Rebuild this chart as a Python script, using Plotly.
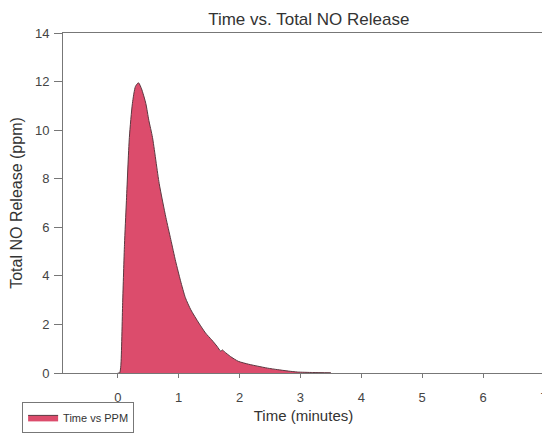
import plotly.graph_objects as go

time_min = [0.00, 0.03, 0.05, 0.08, 0.11, 0.14, 0.19, 0.24, 0.29, 0.34, 0.39, 0.46, 0.51,
            0.57, 0.68, 0.79, 0.87, 0.95, 1.03, 1.11, 1.20, 1.33, 1.44, 1.54, 1.63, 1.69,
            1.72, 1.75, 1.85, 1.98, 2.15, 2.30, 2.46, 2.62, 2.80, 2.95, 3.20, 3.50]
ppm = [0.0, 0.0, 0.3, 2.9, 5.3, 7.0, 9.7, 11.1, 11.8, 11.95, 11.7, 11.1, 10.4,
       9.7, 7.8, 6.4, 5.5, 4.6, 3.8, 3.1, 2.6, 2.06, 1.65, 1.37, 1.1, 0.9,
       0.95, 0.88, 0.68, 0.48, 0.36, 0.28, 0.2, 0.14, 0.08, 0.04, 0.02, 0.01]
x_ticks = [0, 1, 2, 3, 4, 5, 6, 7]
y_ticks = [0, 2, 4, 6, 8, 10, 12, 14]

fig = go.Figure()
fig.add_trace(go.Scatter(
    x=time_min, y=ppm, mode="lines", fill="tozeroy",
    name="Time vs PPM",
    line=dict(color="#5a3840", width=1, shape="spline", smoothing=0.6),
    fillcolor="#dc4c6c",
))

font_main = "Liberation Sans, Arial, sans-serif"
fig.update_layout(
    width=542, height=426,
    margin=dict(l=55, r=6, t=25, b=61, autoexpand=False),
    paper_bgcolor="white", plot_bgcolor="white",
    title=dict(text="Time vs. Total NO Release", x=0.555, xanchor="center", y=0.988, yanchor="top",
               font=dict(family=font_main, size=17, color="#333")),
    font=dict(family=font_main, color="#444"),
    showlegend=True,
    legend=dict(x=-0.085, y=-0.085, xanchor="left", yanchor="top",
                bordercolor="#777", borderwidth=1, bgcolor="white",
                font=dict(size=11, color="#333"), itemwidth=30,
                tracegroupgap=0),
    xaxis=dict(range=[-0.9, 7.0], tickvals=x_ticks, ticktext=[str(v) for v in x_ticks],
               automargin=False, ticklabeloverflow="allow",
               showgrid=False, zeroline=False, showline=True, linecolor="#777", linewidth=1,
               mirror=True, ticks="outside", ticklen=4, tickcolor="#777",
               ticklabelstandoff=8,
               tickfont=dict(size=13, color="#444"),
               title=dict(text="Time (minutes)", font=dict(size=15, color="#333"), standoff=6)),
    yaxis=dict(range=[0, 14], tickvals=y_ticks, ticktext=[str(v) for v in y_ticks],
               automargin=False,
               showgrid=False, zeroline=False, showline=True, linecolor="#777", linewidth=1,
               mirror=True, ticks="outside", ticklen=8, tickcolor="#777",
               ticklabelstandoff=2,
               tickfont=dict(size=13, color="#444"),
               title=dict(text="Total NO Release (ppm)", font=dict(size=16, color="#333"), standoff=14)),
)

fig.write_html("out.html")
